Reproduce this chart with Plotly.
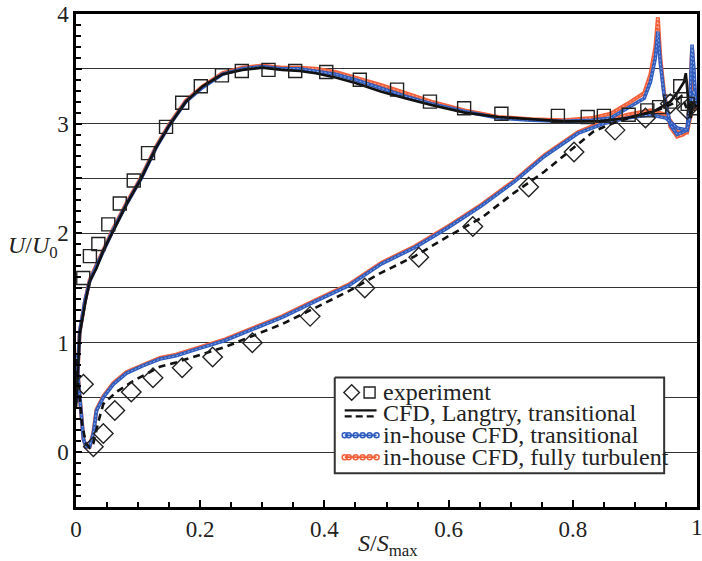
import plotly.graph_objects as go

# ---------------- data ----------------
# experiment, suction side (squares) and pressure side (diamonds)
exp_sq_s = [0.0117, 0.0224, 0.036, 0.052, 0.0705, 0.093, 0.116, 0.145, 0.171, 0.201, 0.235, 0.267,
            0.310, 0.353, 0.403, 0.457, 0.517, 0.570, 0.625, 0.685, 0.776, 0.824, 0.850, 0.890,
            0.920, 0.939, 0.957, 0.973, 0.985, 0.995]
exp_sq_u = [1.59, 1.79, 1.90, 2.08, 2.27, 2.48, 2.73, 2.97, 3.19, 3.34, 3.44, 3.48,
            3.49, 3.48, 3.47, 3.40, 3.31, 3.20, 3.14, 3.09, 3.07, 3.06, 3.07, 3.08,
            3.12, 3.15, 3.20, 3.34, 3.18, 3.14]
exp_di_s = [0.012, 0.028, 0.044, 0.0625, 0.089, 0.124, 0.171, 0.220, 0.284, 0.377, 0.465, 0.552,
            0.639, 0.729, 0.802, 0.868, 0.917, 0.957, 0.984]
exp_di_u = [0.62, 0.05, 0.17, 0.38, 0.55, 0.68, 0.77, 0.87, 1.00, 1.24, 1.50, 1.78,
            2.06, 2.42, 2.74, 2.94, 3.05, 3.18, 3.13]

# CFD, Langtry transitional: suction side (solid) and pressure side (dashed)
lang_up_s = [0, 0.003, 0.006, 0.0144, 0.022, 0.033, 0.044, 0.06, 0.081, 0.105, 0.129, 0.151,
             0.177, 0.204, 0.236, 0.268, 0.30, 0.332, 0.36, 0.386, 0.418, 0.45, 0.492, 0.53,
             0.572, 0.626, 0.68, 0.733, 0.786, 0.84, 0.888, 0.93, 0.957, 0.968, 0.979, 0.982,
             0.986, 0.99, 0.994, 0.998]
lang_up_u = [0.40, 0.75, 1.08, 1.35, 1.56, 1.68, 1.84, 2.02, 2.26, 2.50, 2.78, 2.99,
             3.20, 3.34, 3.45, 3.49, 3.51, 3.49, 3.48, 3.46, 3.42, 3.37, 3.29, 3.23,
             3.17, 3.10, 3.06, 3.04, 3.02, 3.02, 3.05, 3.11, 3.20, 3.28, 3.38, 3.46,
             3.20, 3.05, 3.20, 3.15]
lang_lo_s = [0, 0.005, 0.01, 0.016, 0.022, 0.028, 0.036, 0.044, 0.065, 0.092, 0.135, 0.161,
             0.2, 0.24, 0.279, 0.332, 0.386, 0.439, 0.492, 0.546, 0.599, 0.653, 0.706, 0.754,
             0.808, 0.834, 0.872, 0.91, 0.94, 0.96, 0.975, 0.985, 0.993, 1.0]
lang_lo_u = [0.85, 0.55, 0.25, 0.08, 0.04, 0.08, 0.28, 0.44, 0.55, 0.65, 0.78, 0.82,
             0.89, 0.96, 1.05, 1.17, 1.32, 1.47, 1.64, 1.79, 1.97, 2.14, 2.37, 2.56,
             2.81, 2.93, 3.02, 3.08, 3.13, 3.18, 3.25, 3.12, 3.20, 3.15]

# in-house CFD, transitional
tr_up_s = [0, 0.003, 0.006, 0.0144, 0.022, 0.033, 0.044, 0.06, 0.081, 0.105, 0.129, 0.151,
           0.177, 0.204, 0.236, 0.268, 0.30, 0.332, 0.36, 0.386, 0.418, 0.45, 0.492, 0.53,
           0.572, 0.626, 0.68, 0.733, 0.786, 0.83, 0.861, 0.888, 0.915, 0.925, 0.933, 0.937,
           0.941, 0.947, 0.957, 0.968, 0.978, 0.984, 0.989, 0.992, 0.995, 0.998]
tr_up_u = [0.45, 0.80, 1.10, 1.38, 1.56, 1.70, 1.84, 2.03, 2.26, 2.50, 2.78, 2.99,
           3.20, 3.33, 3.45, 3.50, 3.52, 3.50, 3.50, 3.48, 3.45, 3.40, 3.32, 3.25,
           3.18, 3.11, 3.05, 3.03, 3.02, 3.03, 3.05, 3.14, 3.23, 3.38, 3.60, 3.84,
           3.55, 3.26, 2.99, 2.90, 2.92, 2.94, 3.26, 3.72, 3.50, 3.15]
tr_lo_s = [0, 0.004, 0.008, 0.012, 0.016, 0.022, 0.028, 0.033, 0.044, 0.06, 0.081, 0.108,
           0.135, 0.161, 0.2, 0.24, 0.279, 0.332, 0.386, 0.439, 0.492, 0.546, 0.599, 0.653,
           0.706, 0.754, 0.808, 0.85, 0.888, 0.925, 0.95, 0.968, 0.984, 0.99, 0.995, 1.0]
tr_lo_u = [0.90, 0.65, 0.35, 0.12, 0.05, 0.05, 0.17, 0.38, 0.50, 0.62, 0.72, 0.79,
           0.85, 0.88, 0.95, 1.02, 1.11, 1.23, 1.38, 1.52, 1.72, 1.87, 2.05, 2.25,
           2.47, 2.70, 2.91, 3.00, 3.05, 3.08, 3.05, 2.96, 2.94, 3.10, 3.30, 3.15]

# in-house CFD, fully turbulent
ft_up_s = tr_up_s
ft_up_u = [0.45, 0.80, 1.10, 1.38, 1.57, 1.71, 1.85, 2.04, 2.27, 2.51, 2.79, 3.00,
           3.21, 3.34, 3.46, 3.51, 3.53, 3.51, 3.51, 3.50, 3.47, 3.42, 3.35, 3.28,
           3.20, 3.12, 3.06, 3.04, 3.03, 3.05, 3.09, 3.18, 3.28, 3.45, 3.70, 3.97,
           3.60, 3.28, 2.97, 2.88, 2.90, 2.93, 3.25, 3.68, 3.45, 3.12]
ft_lo_s = tr_lo_s
ft_lo_u = [0.90, 0.65, 0.35, 0.12, 0.05, 0.05, 0.18, 0.39, 0.51, 0.63, 0.73, 0.80,
           0.86, 0.89, 0.96, 1.03, 1.12, 1.24, 1.39, 1.53, 1.73, 1.88, 2.06, 2.26,
           2.48, 2.71, 2.92, 3.02, 3.08, 3.12, 3.08, 2.94, 2.92, 3.08, 3.28, 3.13]

x_ticks = [0, 0.2, 0.4, 0.6, 0.8, 1]
x_ticktext = ["0", "0.2", "0.4", "0.6", "0.8", "1"]
y_ticks = [-0.5, 0, 0.5, 1, 1.5, 2, 2.5, 3, 3.5, 4]
y_ticktext = ["", "0", "", "1", "", "2", "", "3", "", "4"]

legend_labels = ["experiment", "CFD, Langtry, transitional",
                 "in-house CFD, transitional", "in-house CFD, fully turbulent"]

# ---------------- style ----------------
FONT = "Liberation Serif, Times New Roman, DejaVu Serif, serif"
BLUE = "#2f5cbf"
RED = "#f2603a"
BLACK = "#111111"
TXT = "#222"

fig = go.Figure()


def bead_curve(s, u, color, width):
    # thick coloured line with a faint dotted centre to give the beaded look
    fig.add_trace(go.Scatter(x=s, y=u, mode="lines", line=dict(color=color, width=width),
                             showlegend=False, hoverinfo="skip"))
    fig.add_trace(go.Scatter(x=s, y=u, mode="lines",
                             line=dict(color="rgba(255,255,255,0.45)", width=1, dash="2px,2px"),
                             showlegend=False, hoverinfo="skip"))


bead_curve(ft_up_s, ft_up_u, RED, 4.0)
bead_curve(ft_lo_s, ft_lo_u, RED, 4.0)
bead_curve(tr_up_s, tr_up_u, BLUE, 3.6)
bead_curve(tr_lo_s, tr_lo_u, BLUE, 3.6)

fig.add_trace(go.Scatter(x=lang_up_s, y=lang_up_u, mode="lines",
                         line=dict(color=BLACK, width=2.6), showlegend=False))
fig.add_trace(go.Scatter(x=lang_lo_s, y=lang_lo_u, mode="lines",
                         line=dict(color=BLACK, width=2.6, dash="7px,5px"), showlegend=False))

fig.add_trace(go.Scatter(x=exp_sq_s, y=exp_sq_u, mode="markers",
                         marker=dict(symbol="square-open", size=13, color="#222",
                                     line=dict(width=1.4)), showlegend=False))
fig.add_trace(go.Scatter(x=exp_di_s, y=exp_di_u, mode="markers",
                         marker=dict(symbol="diamond-open", size=15, color="#222",
                                     line=dict(width=1.4)), showlegend=False))

# ---------------- legend box (drawn on a hidden pixel-unit overlay) ----------------
bx0, bx1, by0, by1 = 336, 667, 377, 473
rows = [392, 413, 435, 457]
gx0, gx1 = 346, 378
fig.add_trace(go.Scatter(x=[bx0, bx1, bx1, bx0, bx0], y=[by0, by0, by1, by1, by0],
                         xaxis="x2", yaxis="y2", mode="lines", fill="toself",
                         fillcolor="white", line=dict(color="#333", width=2),
                         showlegend=False, hoverinfo="skip"))
fig.add_trace(go.Scatter(x=[353], y=[rows[0]], xaxis="x2", yaxis="y2", mode="markers",
                         marker=dict(symbol="diamond-open", size=12, color="#222",
                                     line=dict(width=1.4)), showlegend=False))
fig.add_trace(go.Scatter(x=[371], y=[rows[0]], xaxis="x2", yaxis="y2", mode="markers",
                         marker=dict(symbol="square-open", size=11, color="#222",
                                     line=dict(width=1.4)), showlegend=False))
fig.add_trace(go.Scatter(x=[gx0, gx1], y=[rows[1] - 3, rows[1] - 3], xaxis="x2", yaxis="y2",
                         mode="lines", line=dict(color=BLACK, width=2.4), showlegend=False))
fig.add_trace(go.Scatter(x=[gx0, gx1], y=[rows[1] + 3, rows[1] + 3], xaxis="x2", yaxis="y2",
                         mode="lines", line=dict(color=BLACK, width=2.4, dash="7px,4px"),
                         showlegend=False))
for r, c in ((rows[2], BLUE), (rows[3], RED)):
    fig.add_trace(go.Scatter(x=[gx0, 350, 357, 364, 371, gx1], y=[r] * 6, xaxis="x2", yaxis="y2",
                             mode="lines+markers", line=dict(color=c, width=1.8),
                             marker=dict(symbol="circle-open", size=5, color=c,
                                         line=dict(width=1.5)),
                             showlegend=False))
for r, t in zip(rows, legend_labels):
    fig.add_annotation(x=382, y=r, xref="x2", yref="y2", text=t, showarrow=False,
                       xanchor="left", yanchor="middle",
                       font=dict(family=FONT, size=24, color=TXT))

# ---------------- axes ----------------
axis_common = dict(showline=True, linewidth=2.5, linecolor="black", mirror=True,
                   ticks="inside", tickcolor="black", tickwidth=1.5, zeroline=False,
                   tickfont=dict(family=FONT, size=23, color=TXT))
fig.update_xaxes(range=[0, 1], tickvals=x_ticks, ticktext=x_ticktext, ticklen=7,
                 showgrid=False,
                 minor=dict(dtick=0.05, ticks="inside", ticklen=5, tickwidth=1.5,
                            tickcolor="black", showgrid=False),
                 **axis_common)
fig.update_yaxes(range=[-0.5, 4], tickvals=y_ticks, ticktext=y_ticktext, ticklen=6,
                 showgrid=True, gridcolor="#333", gridwidth=1.1,
                 minor=dict(dtick=0.1, ticks="inside", ticklen=5, tickwidth=1.5,
                            tickcolor="black", showgrid=False),
                 **axis_common)

fig.update_layout(
    width=702, height=561,
    margin=dict(l=76, r=2, t=12, b=54),
    paper_bgcolor="white", plot_bgcolor="white",
    showlegend=False,
    xaxis2=dict(range=[76, 700], overlaying="x", anchor="y2", visible=False),
    yaxis2=dict(range=[507, 12], overlaying="y", anchor="x2", visible=False),
)

# the tick label at the right end sits on the figure edge
fig.add_annotation(x=1, y=0, xref="x", yref="paper", yshift=-6, text="1", showarrow=False,
                   xanchor="center", yanchor="top", font=dict(family=FONT, size=23, color=TXT))
fig.add_annotation(x=0.503, y=-0.077, xref="paper", yref="paper",
                   text="<i>S</i>/<i>S</i><sub>max</sub>", showarrow=False,
                   xanchor="center", yanchor="middle",
                   font=dict(family=FONT, size=24, color=TXT))
fig.add_annotation(x=-0.07, y=0.527, xref="paper", yref="paper",
                   text="<i>U</i>/<i>U</i><sub>0</sub>", showarrow=False,
                   xanchor="center", yanchor="middle",
                   font=dict(family=FONT, size=24, color=TXT))

fig.write_html("out.html")
